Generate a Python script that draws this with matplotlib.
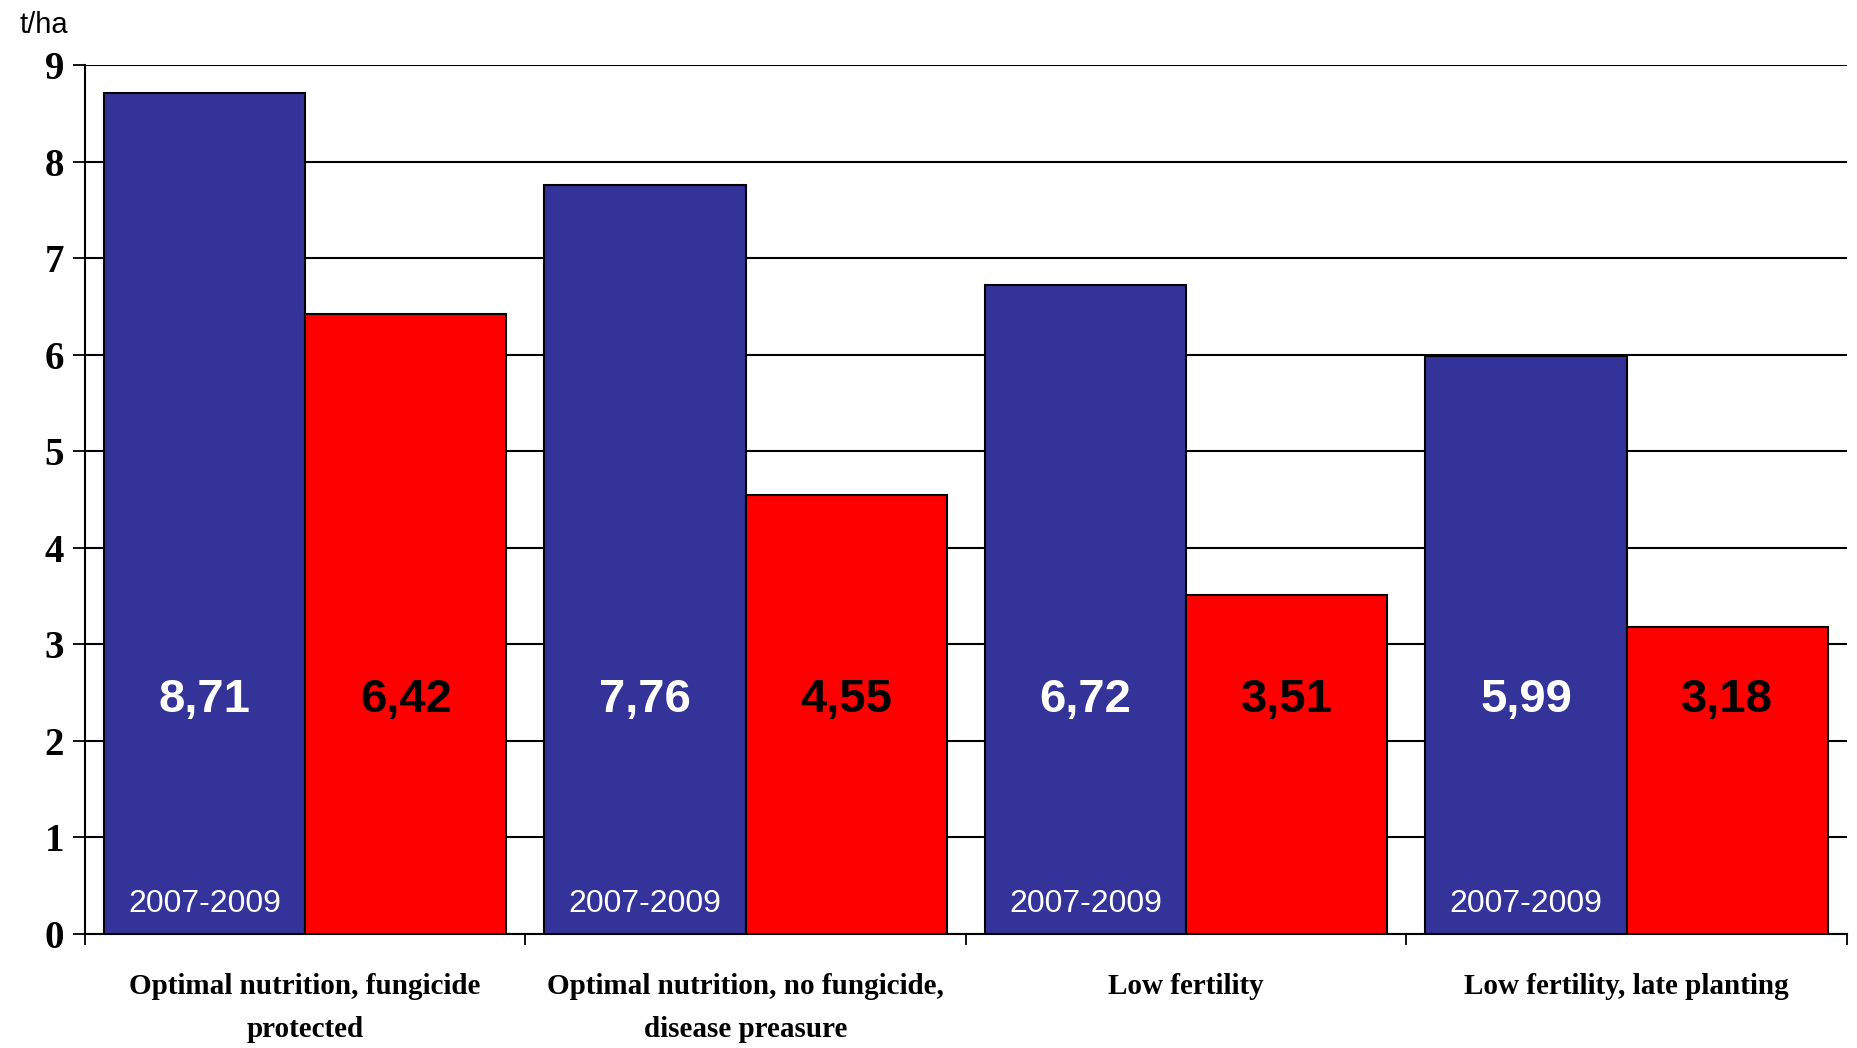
import numpy as np
import matplotlib
matplotlib.use('Agg')
import matplotlib.pyplot as plt

# data
categories = ['Optimal nutrition, fungicide\nprotected',
              'Optimal nutrition, no fungicide,\ndisease preasure',
              'Low fertility',
              'Low fertility, late planting']
blue_vals = [8.71, 7.76, 6.72, 5.99]
red_vals  = [6.42, 4.55, 3.51, 3.18]
period    = '2007-2009'
yticks    = [0, 1, 2, 3, 4, 5, 6, 7, 8, 9]

blue = '#333399'
red  = '#ff0000'

fig = plt.figure(figsize=(18.58, 10.48), dpi=100)
ax = fig.add_axes([0.0457, 0.1088, 0.9483, 0.8292])

x = np.arange(len(categories))
w = 0.457

ax.bar(x - w/2, blue_vals, w, color=blue, edgecolor='black', linewidth=1.5, zorder=3)
ax.bar(x + w/2, red_vals, w, color=red, edgecolor='black', linewidth=1.5, zorder=3)

# value labels
for i in range(len(categories)):
    ax.text(x[i] - w/2, 2.42, ('%.2f' % blue_vals[i]).replace('.', ','),
            ha='center', va='center', color='white', fontsize=34,
            fontweight='bold', family='Liberation Sans', zorder=4)
    ax.text(x[i] + w/2, 2.42, ('%.2f' % red_vals[i]).replace('.', ','),
            ha='center', va='center', color='black', fontsize=34,
            fontweight='bold', family='Liberation Sans', zorder=4)
    ax.text(x[i] - w/2, 0.31, period, ha='center', va='center',
            color='white', fontsize=23, family='Liberation Sans', zorder=4)

ax.set_xlim(-0.5, len(categories) - 0.5)
ax.set_ylim(0, 9)
ax.set_yticks(yticks)
ax.set_yticklabels([str(t) for t in yticks], fontsize=28, fontweight='bold',
                   family='Liberation Serif')
ax.yaxis.grid(True, color='black', linewidth=1.5, zorder=0)
ax.set_axisbelow(True)

# ticks at group boundaries, labels at centres
ax.set_xticks(np.arange(len(categories) + 1) - 0.5)
ax.set_xticklabels([])
ax.set_xticks(x, minor=True)
ax.set_xticklabels(categories, minor=True, fontsize=21, fontweight='bold',
                   family='Liberation Serif', linespacing=1.75)
ax.tick_params(axis='x', which='minor', length=0, pad=28)
ax.tick_params(axis='x', which='major', length=8, width=1.3, direction='out')
ax.tick_params(axis='y', length=9, width=1.3, direction='out', pad=6)

for s in ['top', 'right']:
    ax.spines[s].set_visible(False)
ax.spines['left'].set_linewidth(1.5)
ax.spines['bottom'].set_linewidth(1.5)

fig.text(20/1858, 1 - 25/1048, 't/ha', fontsize=21, family='Liberation Sans',
         ha='left', va='center')

fig.savefig('out.png', dpi=100)
